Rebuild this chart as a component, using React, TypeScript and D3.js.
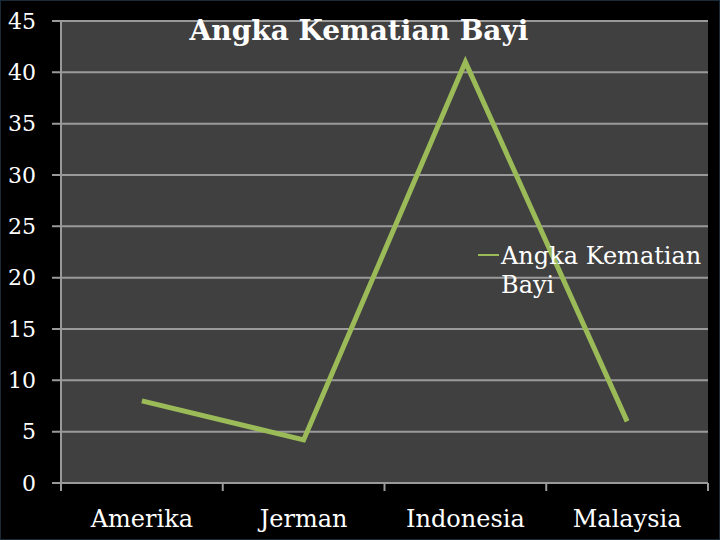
import React from "react";
import * as d3 from "d3";

const categories = ["Amerika", "Jerman", "Indonesia", "Malaysia"];
const values = [8, 4.2, 41, 6];
const yTicks = [0, 5, 10, 15, 20, 25, 30, 35, 40, 45];
const title = "Angka Kematian Bayi";
const seriesName = ["Angka Kematian", "Bayi"];

export default function App() {
  const W = 720, H = 540;
  const left = 61, right = 708, top = 21, bottom = 483;
  const x = d3.scaleBand<string>().domain(categories).range([left, right]).padding(0);
  const y = d3.scaleLinear().domain([0, 45]).range([bottom, top]);
  const line = d3
    .line<number>()
    .x((_, i) => (x(categories[i]) as number) + x.bandwidth() / 2)
    .y((d) => y(d));
  const font = "'DejaVu Serif', 'Liberation Serif', serif";
  const grid = "#9a9a9a";
  const green = "#9bbb59";
  const tickXs = [...categories.map((c) => x(c) as number), right];
  return (
    <svg width={W} height={H} style={{ position: "absolute", left: 0, top: 0, display: "block" }}>
      <rect x={0} y={0} width={W} height={H} fill="#000" />
      <rect x={0.5} y={0.5} width={W - 1} height={H - 1} fill="none" stroke="#1c2a36" />
      <rect x={left} y={top} width={right - left} height={bottom - top} fill="#404040" />
      {yTicks.map((t) => (
        <g key={t}>
          <line x1={52} x2={right} y1={y(t)} y2={y(t)} stroke={grid} strokeWidth={2} />
          <text x={36} y={y(t)} dy="0.35em" textAnchor="end" fill="#fff" fontFamily={font} fontSize={22}>
            {t}
          </text>
        </g>
      ))}
      <line x1={left} x2={left} y1={top} y2={bottom + 8} stroke={grid} strokeWidth={2} />
      {tickXs.map((tx, i) => (
        <line key={i} x1={tx} x2={tx} y1={bottom} y2={bottom + 8} stroke={grid} strokeWidth={2} />
      ))}
      {categories.map((c) => (
        <text
          key={c}
          x={(x(c) as number) + x.bandwidth() / 2}
          y={527}
          textAnchor="middle"
          fill="#fff"
          fontFamily={font}
          fontSize={24}
        >
          {c}
        </text>
      ))}
      <path d={line(values) || ""} fill="none" stroke={green} strokeWidth={5} strokeLinejoin="miter" />
      <text x={359} y={40} textAnchor="middle" fill="#fff" fontFamily={font} fontSize={28} fontWeight="bold">
        {title}
      </text>
      <line x1={478} x2={499} y1={255} y2={255} stroke={green} strokeWidth={2} />
      <text x={501} y={264} fill="#fff" fontFamily={font} fontSize={24}>
        {seriesName[0]}
      </text>
      <text x={501} y={293} fill="#fff" fontFamily={font} fontSize={24}>
        {seriesName[1]}
      </text>
    </svg>
  );
}
